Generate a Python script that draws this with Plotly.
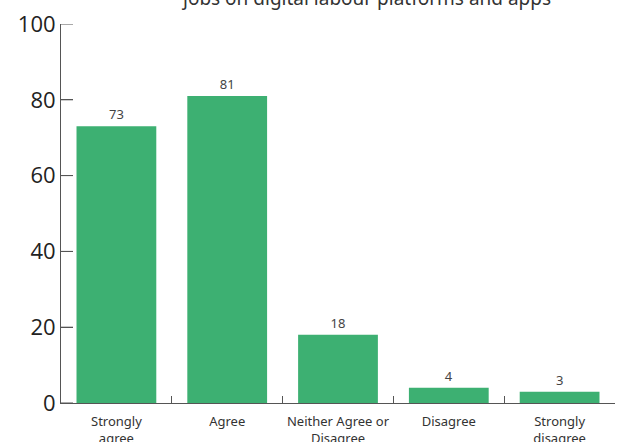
import plotly.graph_objects as go

categories = ["Strongly<br>agree", "Agree", "Neither Agree or<br>Disagree", "Disagree", "Strongly<br>disagree"]
values = [73, 81, 18, 4, 3]
y_ticks = [0, 20, 40, 60, 80, 100]
title_text = "jobs on digital labour platforms and apps"

fig = go.Figure(
    go.Bar(
        x=categories,
        y=values,
        marker=dict(color="#3DB072", line=dict(width=0)),
        text=[str(v) for v in values],
        textposition="outside",
        textfont=dict(family="Noto Sans", size=13, color="#444444"),
        cliponaxis=False,
    )
)

plot_w = 619 - 61 - 4
tick_len_px = 12

fig.update_layout(
    width=619,
    height=442,
    margin=dict(l=61, r=4, t=24, b=39, autoexpand=False),
    paper_bgcolor="white",
    plot_bgcolor="white",
    bargap=0.28,
    showlegend=False,
    annotations=[
        dict(
            text=title_text,
            xref="paper", yref="paper",
            x=0.55, y=1,
            xanchor="center", yanchor="bottom",
            yshift=11,
            showarrow=False,
            font=dict(family="Noto Sans", size=19, color="#333333"),
        )
    ],
    shapes=[
        dict(
            type="line", xref="paper", yref="y",
            x0=0, x1=tick_len_px / plot_w, y0=v, y1=v,
            line=dict(color="#555555", width=1),
            layer="above",
        )
        for v in y_ticks
    ],
)

fig.update_xaxes(
    type="category",
    automargin=False,
    tickangle=0,
    showline=True,
    linecolor="#555555",
    linewidth=1,
    ticks="inside",
    tickson="boundaries",
    ticklen=7,
    tickcolor="#555555",
    tickfont=dict(family="Noto Sans", size=13, color="#333333"),
    ticklabelstandoff=6,
    showgrid=False,
    zeroline=False,
)

fig.update_yaxes(
    automargin=False,
    range=[0, 100],
    tickmode="array",
    tickvals=y_ticks,
    showline=True,
    linecolor="#555555",
    linewidth=1,
    ticks="inside",
    ticklen=12,
    tickcolor="#555555",
    tickfont=dict(family="Open Sans", size=22, color="#222222"),
    showgrid=False,
    zeroline=False,
)

fig.write_html("out.html")
